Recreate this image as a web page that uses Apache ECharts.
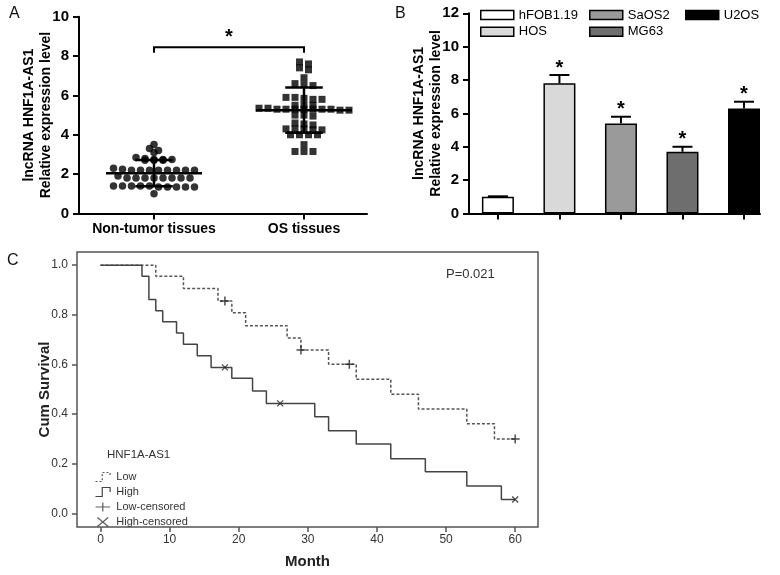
<!DOCTYPE html>
<html><head><meta charset="utf-8">
<script src="https://cdn.jsdelivr.net/npm/echarts@6/dist/echarts.min.js"></script>
<style>html,body{margin:0;padding:0;background:#fff}#c{width:780px;height:575px}</style>
</head><body><div id="c"></div>
<script>
// ---------- Panel A data ----------
const groupNames = ['Non-tumor tissues', 'OS tissues'];
const nonTumorValues = [3.5, 3.3, 3.2, 3.1,
  2.85, 2.8, 2.75, 2.75, 2.75, 2.7, 2.7, 2.7,
  2.3, 2.25, 2.2, 2.2, 2.2, 2.2, 2.2, 2.2, 2.2, 2.2,
  1.9,
  1.8, 1.8, 1.8, 1.8, 1.8, 1.8, 1.8, 1.8,
  1.4, 1.4, 1.4, 1.4, 1.4, 1.35, 1.35, 1.35, 1.35, 1.35,
  1.0];
const osValues = [7.7, 7.6, 7.4, 7.3, 6.9, 6.6, 6.55, 6.5,
  5.9, 5.9, 5.85, 5.8, 5.8, 5.5, 5.5, 5.5,
  5.35, 5.35, 5.3, 5.3, 5.3, 5.3, 5.3, 5.3, 5.3, 5.25, 5.25,
  5.0, 5.0, 4.95, 4.6, 4.55, 4.5,
  4.3, 4.3, 4.3, 4.25, 4.25, 4.0, 4.0, 4.0, 4.0, 3.5, 3.15, 3.15, 3.15];
const groupMeans = [2.05, 5.25];
const groupSDs = [0.67, 1.15];
const yTicksA = [0, 2, 4, 6, 8, 10];
const bracketA = [1, 2, 8.45, 0.28]; // from group, to group, level, drop
const bracketLabel = '*';

// ---------- Panel B data ----------
const cellLines = ['hFOB1.19', 'HOS', 'SaOS2', 'MG63', 'U2OS'];
const cellValues = [1.0, 7.8, 5.4, 3.7, 6.3];
const cellErrors = [0.03, 0.5, 0.4, 0.3, 0.4];
const cellSig = ['', '*', '*', '*', '*'];
const cellColors = ['#ffffff', '#d9d9d9', '#9a9a9a', '#6e6e6e', '#000000'];

// ---------- Panel C data ----------
const lowTimes = [0, 8, 12, 17, 19, 21, 27, 29, 33, 37, 42, 46, 53, 57];
const lowSurv = [1.0, 0.955, 0.906, 0.856, 0.808, 0.756, 0.707, 0.658, 0.601, 0.54, 0.48, 0.42, 0.361, 0.30];
const lowCensored = [18, 29, 36, 60];
const highTimes = [0, 6, 7, 8, 9, 11, 12, 14, 16, 19, 22, 24, 31, 33, 37, 42, 47, 53, 58];
const highSurv = [1.0, 0.955, 0.862, 0.816, 0.772, 0.727, 0.681, 0.635, 0.588, 0.544, 0.4925, 0.443, 0.389, 0.333, 0.279, 0.22, 0.168, 0.11, 0.056];
const highCensored = [18, 26, 60];
const monthTicks = [0, 10, 20, 30, 40, 50, 60];
const survTicks = [0, 0.2, 0.4, 0.6, 0.8, 1.0];
const pText = 'P=0.021';
const legendTitleC = 'HNF1A-AS1';

// ---------- helpers ----------
function rowLayout(values, center, step, tol) {
  const sorted = values.slice().sort((a, b) => b - a);
  const rows = [];
  sorted.forEach(v => {
    const r = rows[rows.length - 1];
    if (r && r[0] - v < tol) r.push(v); else rows.push([v]);
  });
  const pts = [];
  rows.forEach(r => r.forEach((v, i) => pts.push([center + (i - (r.length - 1) / 2) * step, v])));
  return pts;
}
function survAt(times, surv, t) {
  let s = surv[0];
  for (let i = 0; i < times.length; i++) if (times[i] <= t) s = surv[i];
  return s;
}
function kmLine(times, surv, end) {
  const d = times.map((t, i) => [t, surv[i]]);
  d.push([end, surv[surv.length - 1]]);
  return d;
}
const seg = (a, b, st) => ({ type: 'line', shape: { x1: a[0], y1: a[1], x2: b[0], y2: b[1] }, style: st });

const AB_FONT = "'Liberation Sans', Arial, sans-serif";
const C_FONT = "'Liberation Sans Narrow', 'Arial Narrow', 'Liberation Sans', Arial, sans-serif";

const chart = echarts.init(document.getElementById('c'), null, { renderer: 'canvas' });

const legendB = (items, left) => ({
  orient: 'vertical', left: left, top: 7.5, padding: 0, itemWidth: 33, itemHeight: 9, itemGap: 1.7, icon: 'rect',
  data: items, selectedMode: false,
  itemStyle: { borderColor: '#000', borderWidth: 1.5 },
  textStyle: { fontSize: 13, lineHeight: 15, color: '#000', fontFamily: AB_FONT }
});

const option = {
  backgroundColor: '#ffffff',
  animation: false,
  textStyle: { fontFamily: AB_FONT },
  title: [
    { text: 'A', left: 4, top: 1, textStyle: { fontSize: 16, fontWeight: 'normal', color: '#111', fontFamily: AB_FONT } },
    { text: 'B', left: 390, top: 1, textStyle: { fontSize: 16, fontWeight: 'normal', color: '#111', fontFamily: AB_FONT } },
    { text: 'C', left: 2, top: 248, textStyle: { fontSize: 16, fontWeight: 'normal', color: '#111', fontFamily: AB_FONT } }
  ],
  graphic: [
    { type: 'text', left: 446, top: 268, style: { text: pText, fontSize: 13, fill: '#333', fontFamily: C_FONT } },
    { type: 'text', left: 107, top: 449, style: { text: legendTitleC, fontSize: 11.5, fill: '#333', fontFamily: C_FONT } }
  ],
  legend: [
    legendB(['hFOB1.19', 'HOS'], 480),
    legendB(['SaOS2', 'MG63'], 589),
    legendB(['U2OS'], 685),
    { orient: 'vertical', left: 93, top: 470, padding: 0, itemWidth: 17, itemHeight: 9, itemGap: 1, selectedMode: false,
      textStyle: { fontSize: 11, lineHeight: 12, color: '#333', fontFamily: C_FONT },
      data: [
        { name: 'Low', icon: 'path://M0,10 L6,10 L6,2 L13,2 L13,6', itemStyle: { color: 'none', borderColor: '#555', borderWidth: 1.2, borderType: [2, 2] } },
        { name: 'High', icon: 'path://M0,10 L6,10 L6,2 L13,2 L13,6', itemStyle: { color: 'none', borderColor: '#444', borderWidth: 1.2 } },
        { name: 'Low-censored', icon: 'path://M0,5 L16,5 M8,0 L8,10', itemStyle: { color: 'none', borderColor: '#333', borderWidth: 1.2 } },
        { name: 'High-censored', icon: 'path://M2,0 L14,10 M2,10 L14,0', itemStyle: { color: 'none', borderColor: '#333', borderWidth: 1.2 } }
      ] }
  ],
  grid: [
    { left: 79, top: 16.7, width: 288, height: 196.8 },
    { left: 469, top: 13.3, width: 291, height: 200.2 },
    { left: 77, top: 252, width: 461, height: 275, show: true, borderColor: '#555', borderWidth: 1.5, backgroundColor: 'transparent' }
  ],
  xAxis: [
    { gridIndex: 0, type: 'value', min: 0.5, max: 2.42, splitLine: { show: false },
      axisLine: { show: true, onZero: false, lineStyle: { color: '#000', width: 2 } },
      axisTick: { show: true, customValues: [1, 2], length: 6, lineStyle: { color: '#000', width: 2 } },
      axisLabel: { customValues: [1, 2], formatter: v => groupNames[Math.round(v) - 1], fontSize: 14, fontWeight: 'bold', color: '#000', margin: 9 } },
    { gridIndex: 1, type: 'value', min: -0.47, max: 4.26, splitLine: { show: false },
      axisLine: { show: true, onZero: false, lineStyle: { color: '#000', width: 2 } },
      axisTick: { show: true, customValues: [0, 1, 2, 3, 4], length: 6, lineStyle: { color: '#000', width: 2 } },
      axisLabel: { show: false } },
    { gridIndex: 2, type: 'value', min: -3.4, max: 63.3, splitLine: { show: false },
      axisLine: { show: false, onZero: false },
      axisTick: { show: true, customValues: monthTicks, length: 5, lineStyle: { color: '#555', width: 1.5 } },
      axisLabel: { customValues: monthTicks, fontSize: 12, color: '#333', margin: 7, fontFamily: C_FONT },
      name: 'Month', nameLocation: 'middle', nameGap: 27, nameMoveOverlap: false,
      nameTextStyle: { fontSize: 15, fontWeight: 'bold', color: '#222', fontFamily: AB_FONT } }
  ],
  yAxis: [
    { gridIndex: 0, type: 'value', min: 0, max: 10, interval: 2, splitLine: { show: false },
      axisLine: { show: true, onZero: false, lineStyle: { color: '#000', width: 2 } },
      axisTick: { show: true, length: 6, lineStyle: { color: '#000', width: 2 } },
      axisLabel: { customValues: yTicksA, fontSize: 15, fontWeight: 'bold', color: '#000', margin: 10 },
      name: 'lncRNA HNF1A-AS1\nRelative expression level', nameLocation: 'middle', nameGap: 24, nameRotate: 90, nameMoveOverlap: false,
      nameTextStyle: { fontSize: 14, fontWeight: 'bold', color: '#000', lineHeight: 17 } },
    { gridIndex: 1, type: 'value', min: 0, max: 12, interval: 2, splitLine: { show: false },
      axisLine: { show: true, onZero: false, lineStyle: { color: '#000', width: 2 } },
      axisTick: { show: true, length: 6, lineStyle: { color: '#000', width: 2 } },
      axisLabel: { fontSize: 15, fontWeight: 'bold', color: '#000', margin: 10 },
      name: 'lncRNA HNF1A-AS1\nRelative expression level', nameLocation: 'middle', nameGap: 24, nameRotate: 90, nameMoveOverlap: false,
      nameTextStyle: { fontSize: 14, fontWeight: 'bold', color: '#000', lineHeight: 17 } },
    { gridIndex: 2, type: 'value', min: -0.055, max: 1.053, splitLine: { show: false },
      axisLine: { show: false, onZero: false },
      axisTick: { show: true, customValues: survTicks, length: 5, lineStyle: { color: '#555', width: 1.5 } },
      axisLabel: { customValues: survTicks, formatter: v => v.toFixed(1), fontSize: 12, color: '#333', margin: 9, fontFamily: C_FONT },
      name: 'Cum Survival', nameLocation: 'middle', nameGap: 25, nameRotate: 90, nameMoveOverlap: false,
      nameTextStyle: { fontSize: 15, fontWeight: 'bold', color: '#222', fontFamily: AB_FONT } }
  ],
  series: []
};

// Panel A scatter
option.series.push({
  type: 'scatter', name: groupNames[0], xAxisIndex: 0, yAxisIndex: 0, symbol: 'circle', symbolSize: 7.5,
  itemStyle: { color: '#000' }, data: rowLayout(nonTumorValues, 1, 0.06, 0.12)
});
option.series.push({
  type: 'scatter', name: groupNames[1], xAxisIndex: 0, yAxisIndex: 0, symbol: 'rect', symbolSize: 7,
  itemStyle: { color: '#000' }, data: rowLayout(osValues, 2, 0.06, 0.12)
});
option.series.push({
  type: 'custom', name: 'meanSD', xAxisIndex: 0, yAxisIndex: 0, z: 5,
  data: groupMeans.map((m, i) => [i + 1, m, groupSDs[i]]),
  renderItem: (params, api) => {
    const x = api.value(0), m = api.value(1), sd = api.value(2);
    const p = (a, b) => api.coord([a, b]);
    const st = { stroke: '#000', lineWidth: 2.5 };
    return { type: 'group', children: [
      seg(p(x - 0.32, m), p(x + 0.32, m), st),
      seg(p(x, m - sd), p(x, m + sd), st),
      seg(p(x - 0.125, m + sd), p(x + 0.125, m + sd), st),
      seg(p(x - 0.125, m - sd), p(x + 0.125, m - sd), st)
    ] };
  }
});
option.series.push({
  type: 'custom', name: 'bracket', xAxisIndex: 0, yAxisIndex: 0, z: 5,
  data: [bracketA],
  renderItem: (params, api) => {
    const x1 = api.value(0), x2 = api.value(1), lv = api.value(2), dr = api.value(3);
    const a = api.coord([x1, lv - dr]), b = api.coord([x1, lv]), c = api.coord([x2, lv]), d = api.coord([x2, lv - dr]);
    return { type: 'group', children: [
      { type: 'polyline', shape: { points: [a, b, c, d] }, style: { stroke: '#000', lineWidth: 2, fill: 'none' } },
      { type: 'text', x: (b[0] + c[0]) / 2, y: b[1] - 10, style: { text: bracketLabel, fontSize: 20, fontWeight: 'bold', fill: '#000', align: 'center', verticalAlign: 'middle', fontFamily: AB_FONT } }
    ] };
  }
});

// Panel B bars
cellLines.forEach((name, i) => {
  option.series.push({
    type: 'bar', name: name, xAxisIndex: 1, yAxisIndex: 1, barWidth: 32, barGap: '-100%',
    itemStyle: { color: cellColors[i], borderColor: '#000', borderWidth: 1.5 },
    data: [[i, cellValues[i]]]
  });
});
option.series.push({
  type: 'custom', name: 'errB', xAxisIndex: 1, yAxisIndex: 1, z: 5,
  data: cellLines.map((n, i) => [i, cellValues[i], cellErrors[i]]),
  renderItem: (params, api) => {
    const i = api.value(0), v = api.value(1), e = api.value(2);
    const base = api.coord([i, v]), top = api.coord([i, v + e]);
    const st = { stroke: '#000', lineWidth: 2 };
    return { type: 'group', children: [
      seg(base, top, st),
      seg([top[0] - 10, top[1]], [top[0] + 10, top[1]], st),
      { type: 'text', x: top[0], y: top[1] - 7, style: { text: cellSig[params.dataIndex], fontSize: 20, fontWeight: 'bold', fill: '#000', align: 'center', verticalAlign: 'middle', fontFamily: AB_FONT } }
    ] };
  }
});

// Panel C KM
const followEnd = Math.max(...lowCensored, ...highCensored);
option.series.push({
  type: 'line', name: 'Low', xAxisIndex: 2, yAxisIndex: 2, step: 'end', showSymbol: false, symbol: 'none',
  lineStyle: { color: '#555', width: 1.5, type: [3, 2] }, itemStyle: { color: '#555' },
  data: kmLine(lowTimes, lowSurv, followEnd)
});
option.series.push({
  type: 'line', name: 'High', xAxisIndex: 2, yAxisIndex: 2, step: 'end', showSymbol: false, symbol: 'none',
  lineStyle: { color: '#444', width: 1.5 }, itemStyle: { color: '#444' },
  data: kmLine(highTimes, highSurv, followEnd)
});
option.series.push({
  type: 'scatter', name: 'Low-censored', xAxisIndex: 2, yAxisIndex: 2, z: 4,
  symbol: 'path://M5,0 L5,10 M0,5 L10,5', symbolSize: 9,
  itemStyle: { color: 'none', borderColor: '#222', borderWidth: 1.5 },
  data: lowCensored.map(t => [t, survAt(lowTimes, lowSurv, t)])
});
option.series.push({
  type: 'scatter', name: 'High-censored', xAxisIndex: 2, yAxisIndex: 2, z: 4,
  symbol: 'path://M0,0 L10,10 M0,10 L10,0', symbolSize: 6,
  itemStyle: { color: 'none', borderColor: '#222', borderWidth: 1.3 },
  data: highCensored.map(t => [t, survAt(highTimes, highSurv, t)])
});

chart.setOption(option);
</script></body></html>
